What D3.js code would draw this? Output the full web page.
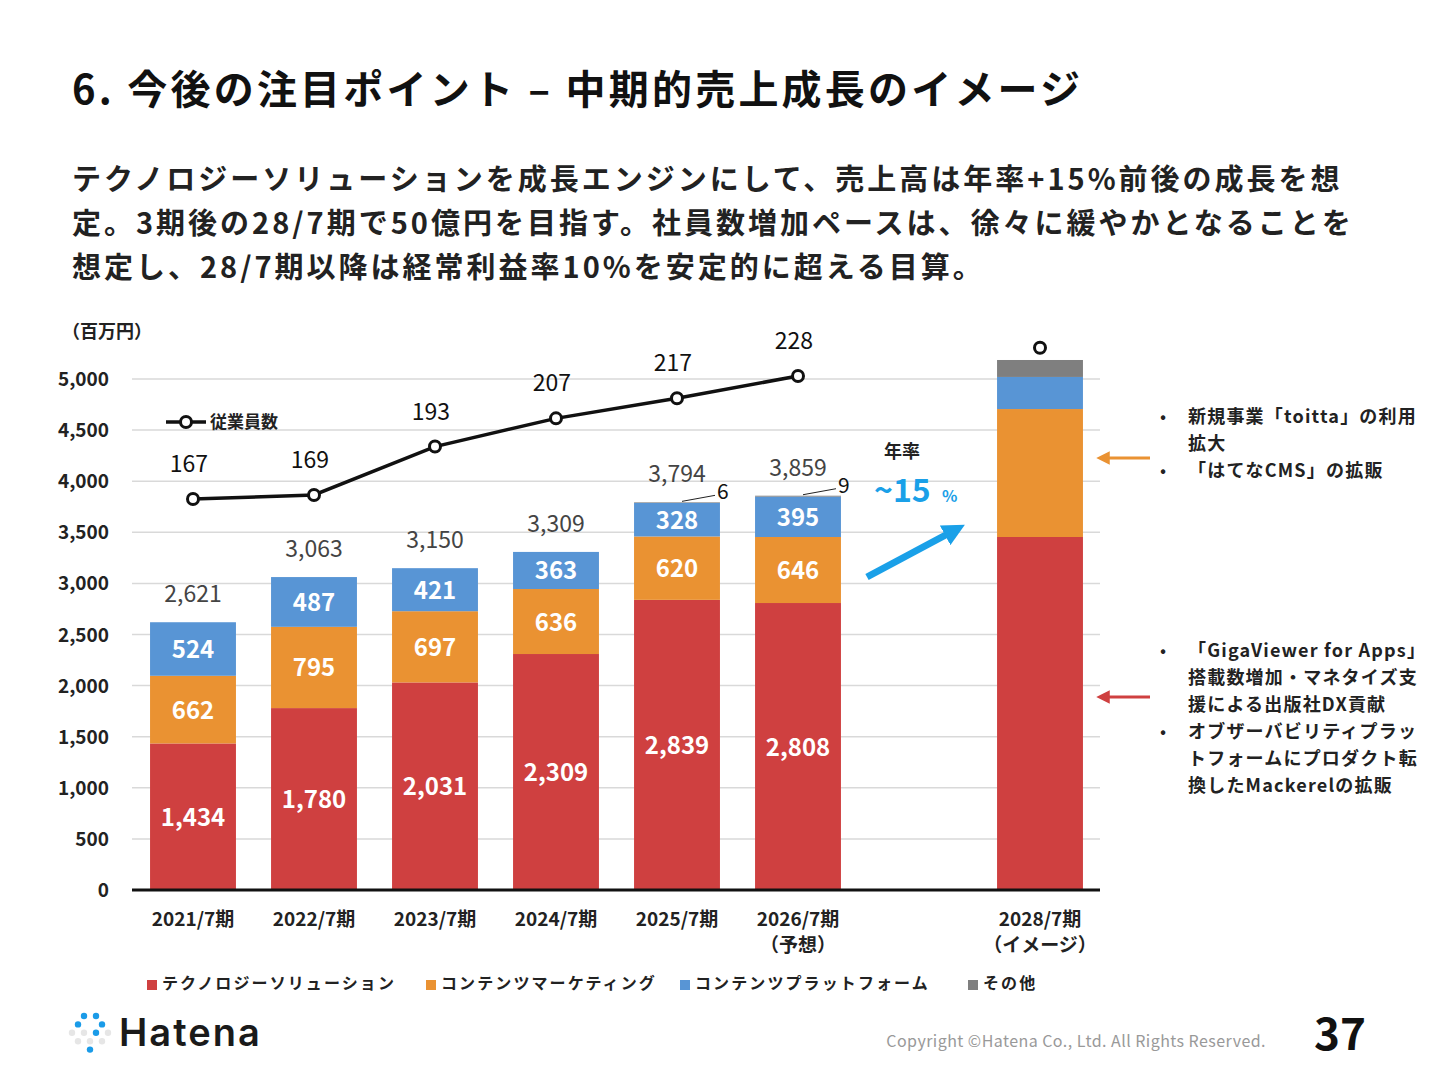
<!DOCTYPE html>
<html><head><meta charset="utf-8">
<script src="https://cdn.jsdelivr.net/npm/d3@7"></script>
<style>body{margin:0;background:#fff;font-family:"Noto Sans CJK JP","Noto Sans",sans-serif;}</style>
</head><body><svg id="c" width="1440" height="1080"></svg>
<script>
const categories=["2021/7期","2022/7期","2023/7期","2024/7期","2025/7期","2026/7期","","2028/7期"];
const subLabels=["","","","","","（予想）","","（イメージ）"];
const techSol=[1434,1780,2031,2309,2839,2808,null,3454];
const contMkt=[662,795,697,636,620,646,null,1252];
const contPf=[524,487,421,363,328,395,null,314];
const other=[0,0,0,0,6,9,null,166];
const totals=[2621,3063,3150,3309,3794,3859,null,null];
const employees=[167,169,193,207,217,228];
const employee2028=242;
const yTicks=[0,500,1000,1500,2000,2500,3000,3500,4000,4500,5000];
const seriesNames=["テクノロジーソリューション","コンテンツマーケティング","コンテンツプラットフォーム","その他"];
const colors=["#cf4040","#ea9232","#5895d5","#7f7f7f"];

const svg=d3.select("#c");
const F='"Noto Sans CJK JP",sans-serif';
svg.append("text").attr("x",72).attr("y",104).attr("font-size",40).attr("font-weight",700).attr("fill","#111").attr("font-family",F).attr("letter-spacing",3.2).text("6. 今後の注目ポイント – 中期的売上成長のイメージ");
["テクノロジーソリューションを成長エンジンにして、売上高は年率+15%前後の成長を想","定。3期後の28/7期で50億円を目指す。社員数増加ペースは、徐々に緩やかとなることを","想定し、28/7期以降は経常利益率10%を安定的に超える目算。"].forEach((t,i)=>
 svg.append("text").attr("x",72).attr("y",190+i*44).attr("font-size",29).attr("font-weight",700).attr("fill","#222").attr("font-family",F).attr("letter-spacing",3).text(t));

const x=d3.scaleBand().domain(d3.range(8)).range([132.5,1100.5]).paddingInner(0.29).paddingOuter(0.145);
const y=d3.scaleLinear().domain([0,5000]).range([890,379]);
const g=svg.append("g").attr("font-family",F);
yTicks.forEach(t=>{
 if(t>0) g.append("line").attr("x1",132).attr("x2",1100).attr("y1",y(t)).attr("y2",y(t)).attr("stroke","#d9d9d9").attr("stroke-width",1.5);
 g.append("text").attr("x",109).attr("y",y(t)+7).attr("text-anchor","end").attr("font-size",19).attr("font-weight",600).attr("fill","#222").text(d3.format(",")(t));
});
g.append("text").attr("x",62).attr("y",338).attr("font-size",18).attr("font-weight",600).attr("fill","#222").text("（百万円）");

const series=[techSol,contMkt,contPf,other];
categories.forEach((c,i)=>{
 if(techSol[i]==null) return;
 let base=0;
 series.forEach((s,k)=>{
  const v=s[i]; if(!v) return;
  g.append("rect").attr("x",x(i)).attr("width",x.bandwidth()).attr("y",y(base+v)).attr("height",y(base)-y(base+v)).attr("fill",colors[k]);
  if(i!==7 && k<3){
   g.append("text").attr("x",x(i)+x.bandwidth()/2).attr("y",(y(base)+y(base+v))/2+9).attr("text-anchor","middle").attr("font-size",24).attr("font-weight",600).attr("fill","#fff").text(d3.format(",")(v));
  }
  base+=v;
 });
 if(totals[i]!=null) g.append("text").attr("x",x(i)+x.bandwidth()/2).attr("y",y(base)-20).attr("text-anchor","middle").attr("font-size",23).attr("fill","#444").text(d3.format(",")(totals[i]));
 if(other[i] && i!==7){
  const cx=x(i)+x.bandwidth()/2, yy=y(base)-1;
  g.append("line").attr("x1",cx+5).attr("y1",yy).attr("x2",cx+38).attr("y2",yy-6).attr("stroke","#222");
  g.append("text").attr("x",cx+40).attr("y",yy-2).attr("font-size",21).attr("fill","#111").text(other[i]);
 }
 g.append("text").attr("x",x(i)+x.bandwidth()/2).attr("y",926).attr("text-anchor","middle").attr("font-size",19).attr("font-weight",600).attr("fill","#222").text(c);
 if(subLabels[i]) g.append("text").attr("x",x(i)+x.bandwidth()/2).attr("y",952).attr("text-anchor","middle").attr("font-size",19).attr("font-weight",600).attr("fill","#222").text(subLabels[i]);
});
g.append("line").attr("x1",132).attr("x2",1100).attr("y1",890).attr("y2",890).attr("stroke","#111").attr("stroke-width",3);

// employees
const ye=d3.scaleLinear().domain([167,228]).range([499,376]);
const line=d3.line().x((d,i)=>x(i)+x.bandwidth()/2).y(d=>ye(d));
g.append("path").datum(employees).attr("d",line).attr("fill","none").attr("stroke","#111").attr("stroke-width",3.5);
employees.forEach((e,i)=>{
 const cx=x(i)+x.bandwidth()/2;
 g.append("circle").attr("cx",cx).attr("cy",ye(e)).attr("r",5.5).attr("fill","#fff").attr("stroke","#111").attr("stroke-width",3);
 g.append("text").attr("x",cx-4).attr("y",ye(e)-27).attr("text-anchor","middle").attr("font-size",23).attr("fill","#111").text(e);
});
g.append("circle").attr("cx",x(7)+x.bandwidth()/2).attr("cy",ye(employee2028)).attr("r",5.5).attr("fill","#fff").attr("stroke","#111").attr("stroke-width",3);
g.append("line").attr("x1",166).attr("x2",206).attr("y1",422).attr("y2",422).attr("stroke","#111").attr("stroke-width",3.5);
g.append("circle").attr("cx",186).attr("cy",422).attr("r",5.5).attr("fill","#fff").attr("stroke","#111").attr("stroke-width",3);
g.append("text").attr("x",210).attr("y",428).attr("font-size",17).attr("font-weight",600).attr("fill","#222").text("従業員数");

// growth arrow
g.append("text").attr("x",884).attr("y",458).attr("font-size",18).attr("font-weight",600).attr("fill","#222").text("年率");
g.append("text").attr("x",874).attr("y",502).attr("font-size",32).attr("font-weight",700).attr("fill","#1aa0e8").text("~15");
g.append("text").attr("x",942).attr("y",502).attr("font-size",16).attr("font-weight",700).attr("fill","#1aa0e8").text("%");
const defs=svg.append("defs");
[["ab","#1aa0e8"],["ao","#ea9232"],["ar","#cf4040"]].forEach(([id,c])=>defs.append("marker").attr("id",id).attr("viewBox","0 0 10 10").attr("refX",5).attr("refY",5).attr("markerWidth",id=="ab"?3.2:4.5).attr("markerHeight",id=="ab"?3.2:4.5).attr("orient","auto").append("path").attr("d","M0,0L10,5L0,10z").attr("fill",c));
g.append("line").attr("x1",867).attr("y1",577).attr("x2",955).attr("y2",530).attr("stroke","#1aa0e8").attr("stroke-width",7).attr("marker-end","url(#ab)");
g.append("line").attr("x1",1150).attr("y1",458).attr("x2",1103).attr("y2",458).attr("stroke","#ea9232").attr("stroke-width",3).attr("marker-end","url(#ao)");
g.append("line").attr("x1",1150).attr("y1",697).attr("x2",1103).attr("y2",697).attr("stroke","#cf4040").attr("stroke-width",3).attr("marker-end","url(#ar)");

// notes
const notes1=[["•","新規事業「toitta」の利用"],["","拡大"],["•","「はてなCMS」の拡販"]];
notes1.forEach((n,i)=>{g.append("text").attr("x",1160).attr("y",423+i*27).attr("font-size",18).attr("fill","#222").text(n[0]);g.append("text").attr("x",1188).attr("y",423+i*27).attr("font-size",18).attr("font-weight",600).attr("fill","#222").attr("letter-spacing",1.2).text(n[1]);});
const notes2=[["•","「GigaViewer for Apps」"],["","搭載数増加・マネタイズ支"],["","援による出版社DX貢献"],["•","オブザーバビリティプラッ"],["","トフォームにプロダクト転"],["","換したMackerelの拡販"]];
notes2.forEach((n,i)=>{g.append("text").attr("x",1160).attr("y",657+i*27).attr("font-size",18).attr("fill","#222").text(n[0]);g.append("text").attr("x",1188).attr("y",657+i*27).attr("font-size",18).attr("font-weight",600).attr("fill","#222").attr("letter-spacing",1.2).text(n[1]);});

// legend
const lx=[147,426,680,968];
seriesNames.forEach((s,k)=>{
 g.append("rect").attr("x",lx[k]).attr("y",980).attr("width",10).attr("height",10).attr("fill",colors[k]);
 g.append("text").attr("x",lx[k]+15).attr("y",989).attr("font-size",16).attr("font-weight",600).attr("fill","#222").attr("letter-spacing",2.1).text(s);
});

// logo & footer
const dots=[[0,0,1],[1,0,1],[-0.5,0.7,1],[1.5,0.7,1],[-1,1.4,0],[0,1.4,0],[1,1.4,1],[2,1.4,0],[-0.5,2.1,0],[0.5,2.1,0],[1.5,2.1,0],[0.5,2.8,1]];
dots.forEach(([a,b,c])=>svg.append("circle").attr("cx",84+a*12).attr("cy",1016+b*12).attr("r",3.2).attr("fill",c?"#1a9be8":"#e6e6e6"));
svg.append("text").attr("x",119).attr("y",1046).attr("font-family","Inter,sans-serif").attr("font-size",38).attr("font-weight",600).attr("fill","#1a1a1a").attr("letter-spacing",2).text("Hatena");
svg.append("text").attr("x",1266).attr("y",1047).attr("text-anchor","end").attr("font-family",F).attr("font-size",16).attr("fill","#999").attr("letter-spacing",0.45).text("Copyright ©Hatena Co., Ltd. All Rights Reserved.");
svg.append("text").attr("x",1340).attr("y",1050).attr("text-anchor","middle").attr("font-family",F).attr("font-size",44).attr("font-weight",700).attr("fill","#111").text("37");
</script></body></html>
